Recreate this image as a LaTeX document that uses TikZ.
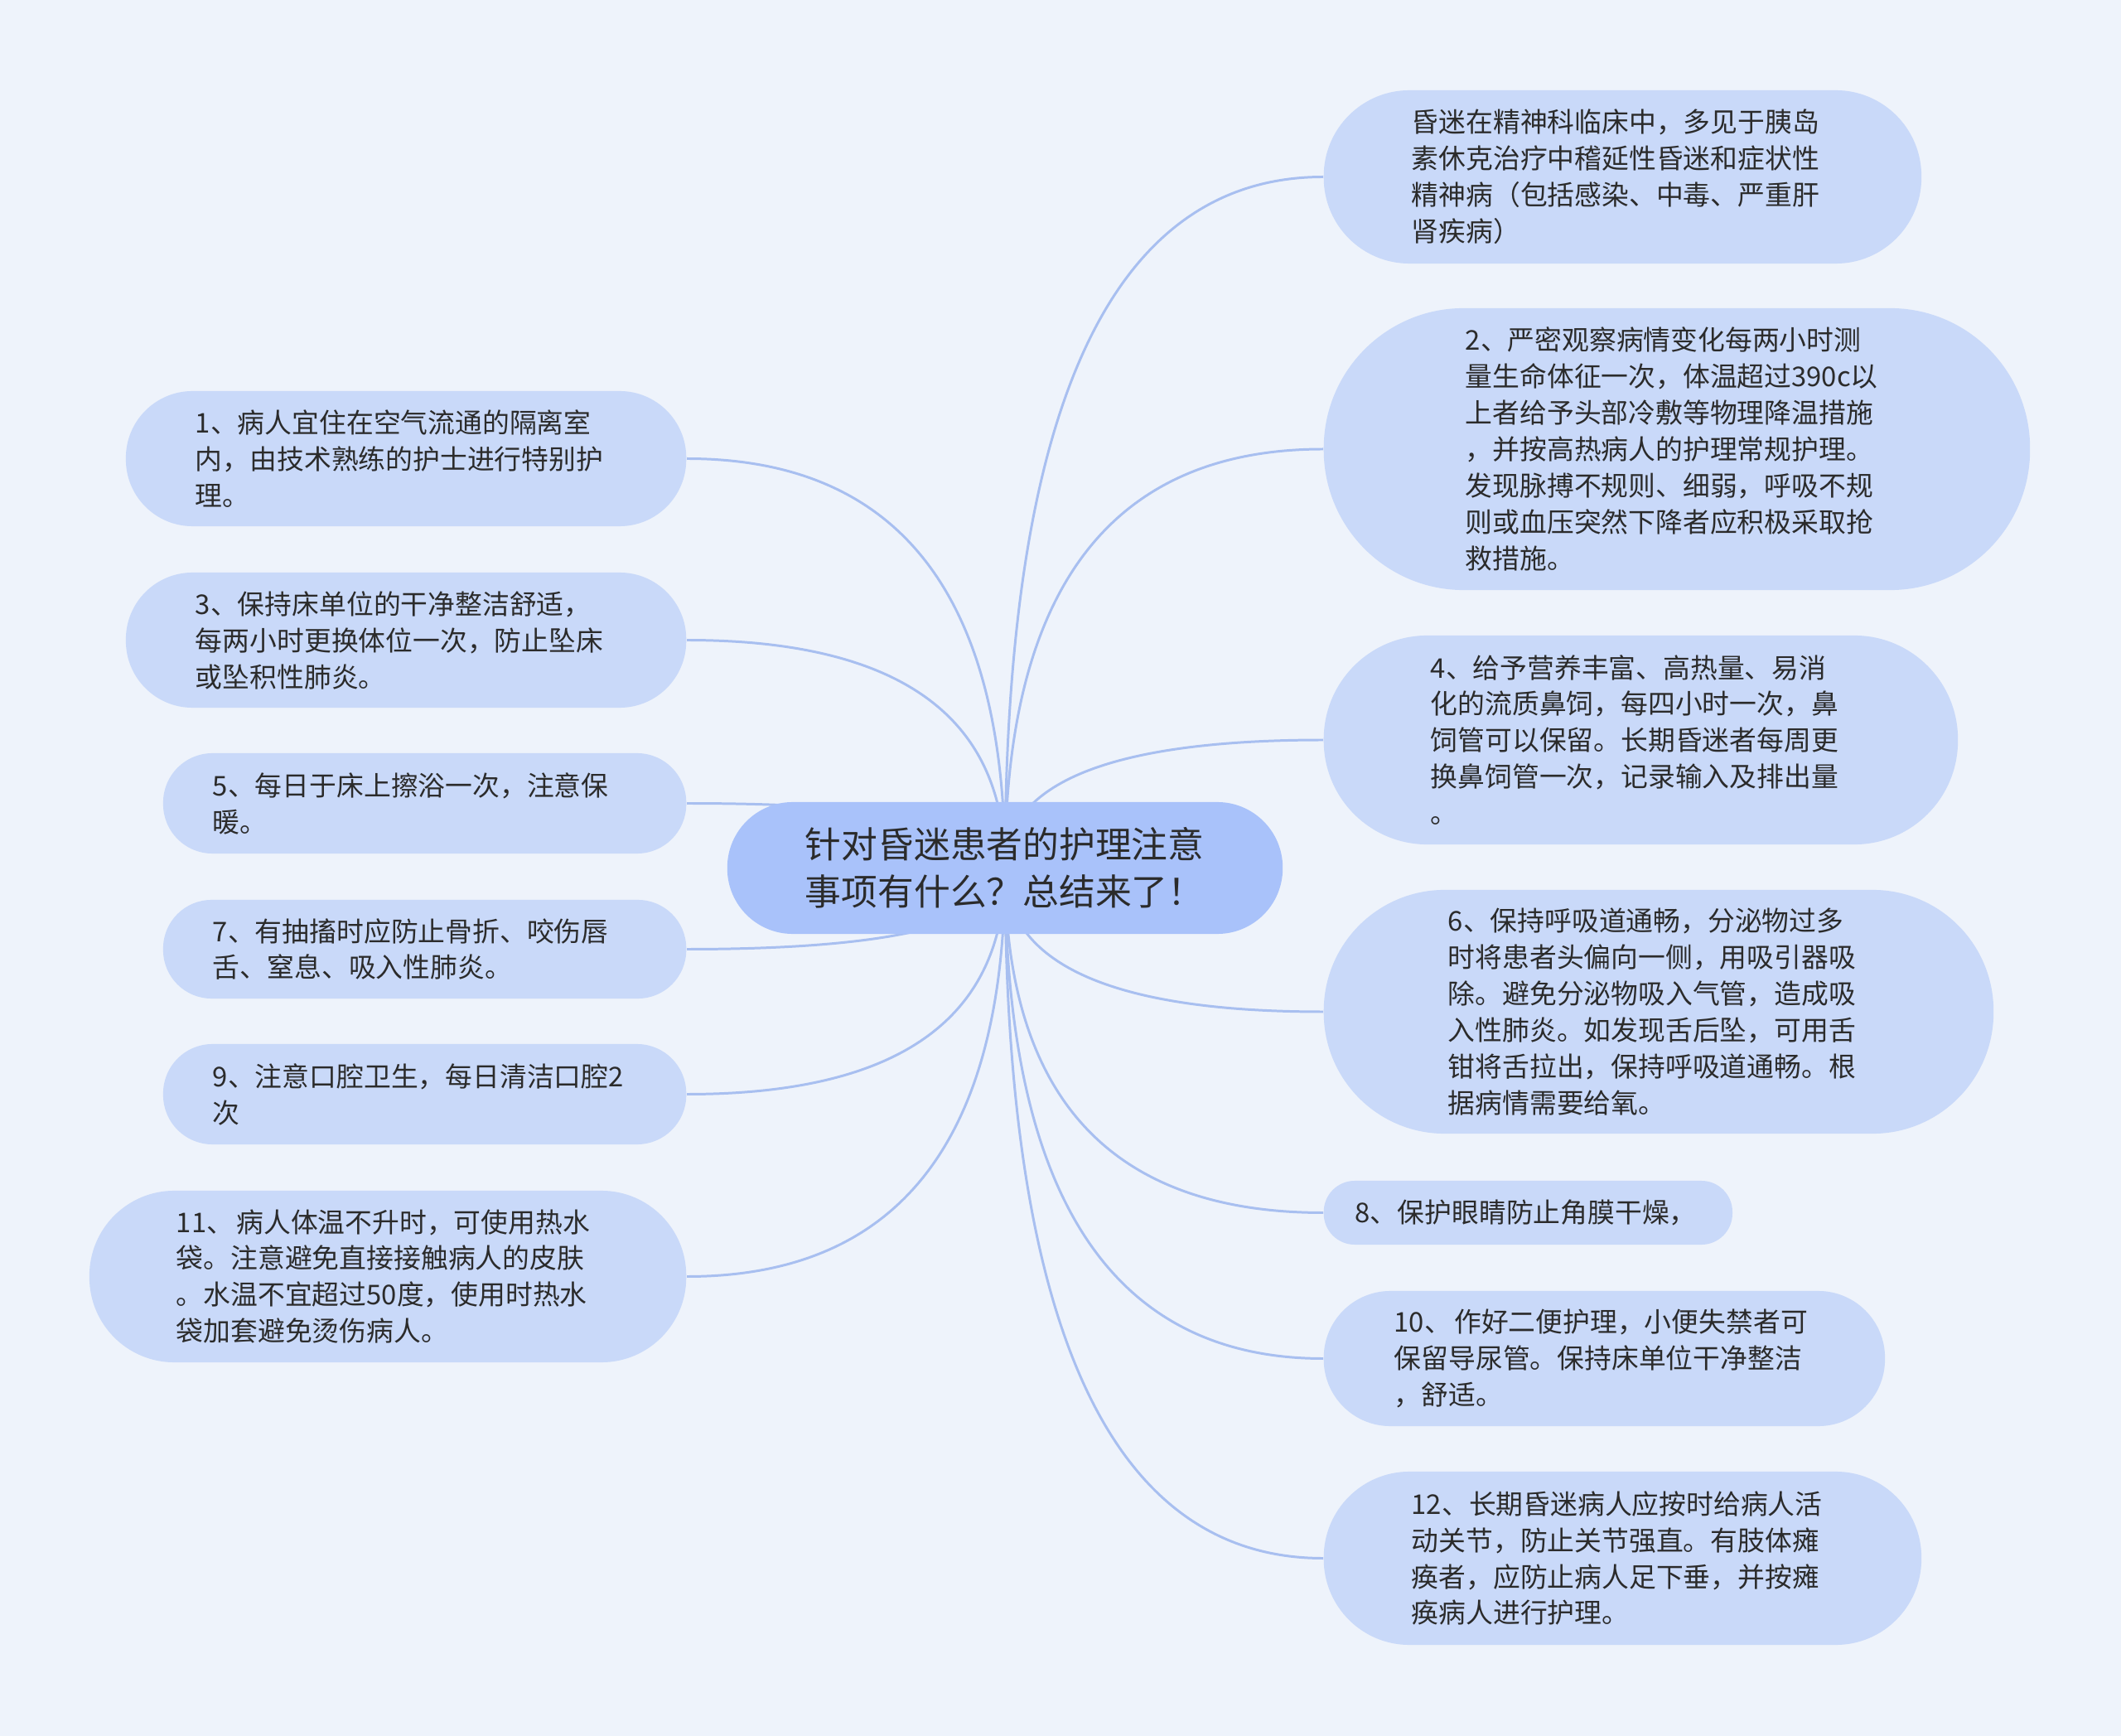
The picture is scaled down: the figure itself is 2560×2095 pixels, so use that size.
\documentclass[tikz,border=0pt]{standalone}
\usepackage{fontspec}
\newfontfamily\cjk{Noto Sans CJK SC}
\usepackage{tikz}
\usetikzlibrary{calc}
\definecolor{mm-bg}{HTML}{EEF3FB}
\definecolor{mm-leaf}{HTML}{C9D9F9}
\definecolor{mm-root}{HTML}{A9C2FA}
\definecolor{mm-line}{HTML}{A8BFF0}
\definecolor{mm-text}{HTML}{2B2B2B}
\pgfdeclarelayer{bg}
\pgfsetlayers{bg,main}

\begin{document}
\begin{tikzpicture}[
    x=0.01cm, y=-0.01cm,
    leaf/.style={rectangle, fill=mm-leaf, minimum height=#1, rounded corners=#1/2-0.3pt, inner ysep=0pt, align=left, text=mm-text, font=\cjk\fontsize{9.33pt}{12.5pt}\selectfont},
    root/.style={rectangle, fill=mm-root, minimum height=1.59cm, rounded corners=0.79cm, inner ysep=0pt, inner xsep=0.94cm, text width=4.82cm, align=left, text=mm-text, font=\cjk\fontsize{12.45pt}{16.2pt}\selectfont},
    link/.style={draw=mm-line, line width=0.85pt}
]

% ── Tema central ──────────────────────────────────────────────
\node[root] (root) at (1213, 1047.5) {针对昏迷患者的护理注意\\事项有什么？总结来了！};

% ── Lado direito ─────────────────────────────────────────────
\node[leaf=2.09cm, inner xsep=1.06cm, text width=5.09cm, anchor=west] (r1) at (1597, 213.5) {昏迷在精神科临床中，多见于胰岛\\素休克治疗中稽延性昏迷和症状性\\精神病（包括感染、中毒、严重肝\\肾疾病）};
\node[leaf=3.40cm, inner xsep=1.71cm, text width=5.10cm, anchor=west] (r2) at (1597, 542) {2、严密观察病情变化每两小时测\\量生命体征一次，体温超过390c以\\上者给予头部冷敷等物理降温措施\\，并按高热病人的护理常规护理。\\发现脉搏不规则、细弱，呼吸不规\\则或血压突然下降者应积极采取抢\\救措施。};
\node[leaf=2.52cm, inner xsep=1.29cm, text width=5.07cm, anchor=west] (r3) at (1597, 893) {4、给予营养丰富、高热量、易消\\化的流质鼻饲，每四小时一次，鼻\\饲管可以保留。长期昏迷者每周更\\换鼻饲管一次，记录输入及排出量\\。};
\node[leaf=2.94cm, inner xsep=1.50cm, text width=5.08cm, anchor=west] (r4) at (1597, 1221) {6、保持呼吸道通畅，分泌物过多\\时将患者头偏向一侧，用吸引器吸\\除。避免分泌物吸入气管，造成吸\\入性肺炎。如发现舌后坠，可用舌\\钳将舌拉出，保持呼吸道通畅。根\\据病情需要给氧。};
\node[leaf=0.77cm, inner xsep=0.38cm, text width=4.17cm, anchor=west] (r5) at (1597, 1463.5) {8、保护眼睛防止角膜干燥，};
\node[leaf=1.63cm, inner xsep=0.85cm, text width=5.07cm, anchor=west] (r6) at (1597, 1639.5) {10、\hspace{0.1em}作好二便护理，小便失禁者可\\保留导尿管。保持床单位干净整洁\\，舒适。};
\node[leaf=2.09cm, inner xsep=1.06cm, text width=5.09cm, anchor=west] (r7) at (1597, 1880.5) {12、长期昏迷病人应按时给病人活\\动关节，防止关节强直。有肢体瘫\\痪者，应防止病人足下垂，并按瘫\\痪病人进行护理。};

% ── Lado esquerdo ────────────────────────────────────────────
\node[leaf=1.63cm, inner xsep=0.84cm, text width=5.08cm, anchor=east] (l1) at (829, 553.5) {1、病人宜住在空气流通的隔离室\\内，由技术熟练的护士进行特别护\\理。};
\node[leaf=1.63cm, inner xsep=0.84cm, text width=5.08cm, anchor=east] (l3) at (829, 772.5) {3、保持床单位的干净整洁舒适，\\每两小时更换体位一次，防止坠床\\或坠积性肺炎。};
\node[leaf=1.21cm, inner xsep=0.60cm, text width=5.11cm, anchor=east] (l5) at (829, 969.5) {5、每日于床上擦浴一次，注意保\\暖。};
\node[leaf=1.19cm, inner xsep=0.60cm, text width=5.11cm, anchor=east] (l7) at (829, 1145.5) {7、有抽搐时应防止骨折、咬伤唇\\舌、窒息、吸入性肺炎。};
\node[leaf=1.21cm, inner xsep=0.60cm, text width=5.11cm, anchor=east] (l9) at (829, 1320.5) {9、注意口腔卫生，每日清洁口腔2\\次};
\node[leaf=2.07cm, inner xsep=1.05cm, text width=5.10cm, anchor=east] (l11) at (829, 1540.5) {11、\hspace{0.1em}病人体温不升时，可使用热水\\袋。注意避免直接接触病人的皮肤\\。水温不宜超过50度，使用时热水\\袋加套避免烫伤病人。};

% ── Fundo e ligações (atrás dos nós) ─────────────────────────
\begin{pgfonlayer}{bg}
\fill[mm-bg] (0, 0) rectangle (2560, 2095);
\foreach \n/\a in {r1/west, r2/west, r3/west, r4/west, r5/west, r6/west, r7/west,
                   l1/east, l3/east, l5/east, l7/east, l9/east, l11/east}
  \draw[link] (root.center) .. controls ($(root.center)!2/3!(root.center |- \n.\a)$) and ($(\n.\a)!2/3!(root.center |- \n.\a)$) .. (\n.\a);
\end{pgfonlayer}

\end{tikzpicture}
\end{document}
